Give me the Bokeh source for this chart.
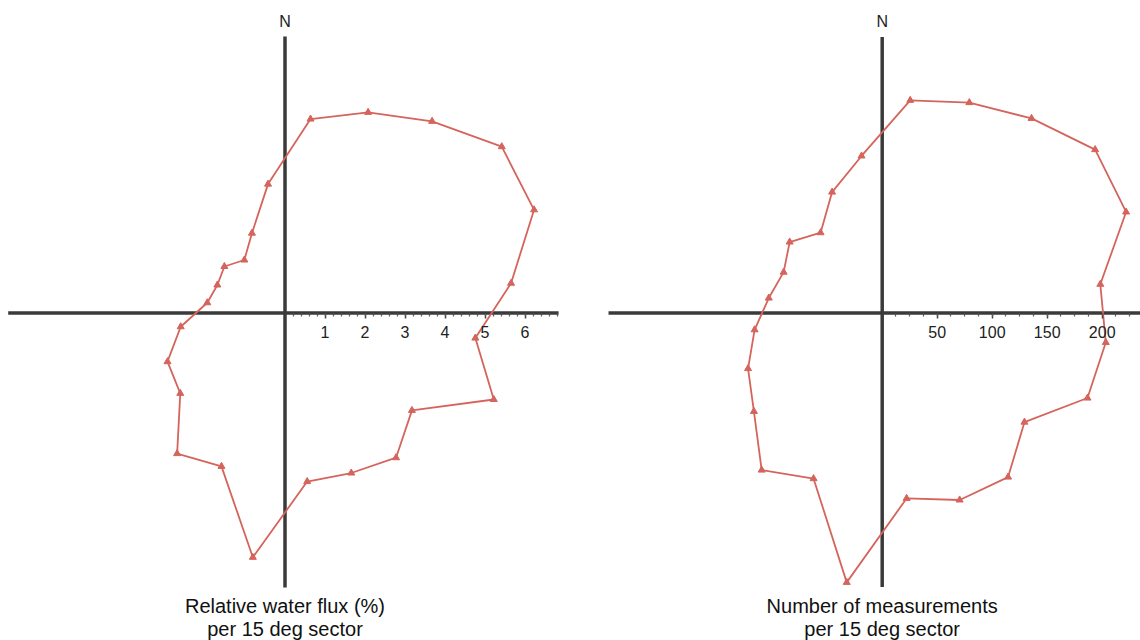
import numpy as np
from bokeh.plotting import figure
from bokeh.layouts import row
from bokeh.models import FixedTicker, Range1d
from bokeh.core.properties import value
from bokeh.embed import file_html
from bokeh.resources import INLINE

# ---- data -------------------------------------------------------------
sector_deg = [7.5, 22.5, 37.5, 52.5, 67.5, 82.5, 97.5, 112.5, 127.5, 142.5, 157.5, 172.5,
              187.5, 202.5, 217.5, 232.5, 247.5, 262.5, 277.5, 292.5, 307.5, 322.5, 337.5, 352.5]
flux_pct = [4.89, 5.43, 6.04, 6.83, 6.74, 5.70, 4.80, 5.65, 4.00, 4.56, 4.33, 4.25,
            6.16, 4.15, 4.43, 3.30, 3.18, 2.63, 1.96, 1.83, 1.91, 1.67, 2.16, 3.25]
n_measurements = [195, 207, 223, 244, 240, 200, 205, 202, 163, 188, 184, 170,
                  247, 163, 180, 147, 132, 117, 104, 97, 106, 92, 119, 144]
flux_ticks = [1, 2, 3, 4, 5, 6]
meas_ticks = [50, 100, 150, 200]
flux_caption = ["Relative water flux (%)", "per 15 deg sector"]
meas_caption = ["Number of measurements", "per 15 deg sector"]
north_label = "N"

FONT = "Liberation Sans"
RED = "#d5645c"
AXIS = "#3a3a3a"
H = 640


def rose(width, height, ox, oy, ppu, values, ticks, minor_step, minor_max,
         h_extent, v_extent, caption):
    p = figure(width=width, height=height, output_backend="svg", toolbar_location=None,
               x_range=Range1d(-ox / ppu, (width - ox) / ppu),
               y_range=Range1d(-(height - oy) / ppu, oy / ppu),
               y_axis_type=None, min_border=0, outline_line_color=None,
               background_fill_color="white", border_fill_color="white")
    p.grid.visible = False

    # axis with ticks along the origin line
    ax = p.xaxis[0]
    ax.fixed_location = 0
    minor = [round(minor_step * k, 4) for k in range(1, int(minor_max / minor_step) + 1)]
    ax.ticker = FixedTicker(ticks=ticks, minor_ticks=minor)
    ax.axis_line_color = None
    ax.major_tick_line_color = "#444444"
    ax.major_tick_line_width = 1.5
    ax.major_tick_out = 5
    ax.major_tick_in = 0
    ax.minor_tick_line_color = "#555555"
    ax.minor_tick_line_width = 1.2
    ax.minor_tick_out = 3
    ax.minor_tick_in = 0
    ax.major_label_standoff = 8
    ax.major_label_text_font = FONT
    ax.major_label_text_font_size = "16px"
    ax.major_label_text_color = "#222222"

    # cross axes
    p.segment(x0=[h_extent[0], 0], y0=[0, v_extent[0]], x1=[h_extent[1], 0], y1=[0, v_extent[1]],
              line_color=AXIS, line_width=3.5)

    th = np.radians(sector_deg)
    r = np.array(values, dtype=float)
    xs = r * np.sin(th)
    ys = r * np.cos(th)
    p.line(np.append(xs, xs[0]), np.append(ys, ys[0]), line_color=RED, line_width=1.8)
    p.scatter(xs, ys, marker="triangle", size=7, fill_color=RED, line_color=RED)

    # N label
    p.text(x=[0], y=[(oy - 21) / ppu], text=[north_label], text_font=value(FONT),
           text_font_size="16px", text_align="center", text_baseline="middle",
           text_color="#222222")
    # caption
    p.text(x=[0, 0], y=[-(605 - oy) / ppu, -(628 - oy) / ppu], text=caption,
           text_font=value(FONT), text_font_size="20px", text_align="center",
           text_baseline="middle", text_color="#111111")
    return p


# left: 40 px per %, origin at page (284.5, 312.5)
p1 = rose(588, H, 284.5, 312.5, 40.0, flux_pct, flux_ticks, 0.2, 6.8,
          (-6.92, 6.84), (6.91, -6.86), flux_caption)
# right: 1.1 px per measurement, origin at page (881.7, 312.5)
p2 = rose(552, H, 293.7, 312.5, 1.1, n_measurements, meas_ticks, 12.5, 225,
          (-248.8, 235.0), (251.0, -249.0), meas_caption)

layout = row(p1, p2, spacing=0)
open("out.html", "w").write(file_html(layout, INLINE))
